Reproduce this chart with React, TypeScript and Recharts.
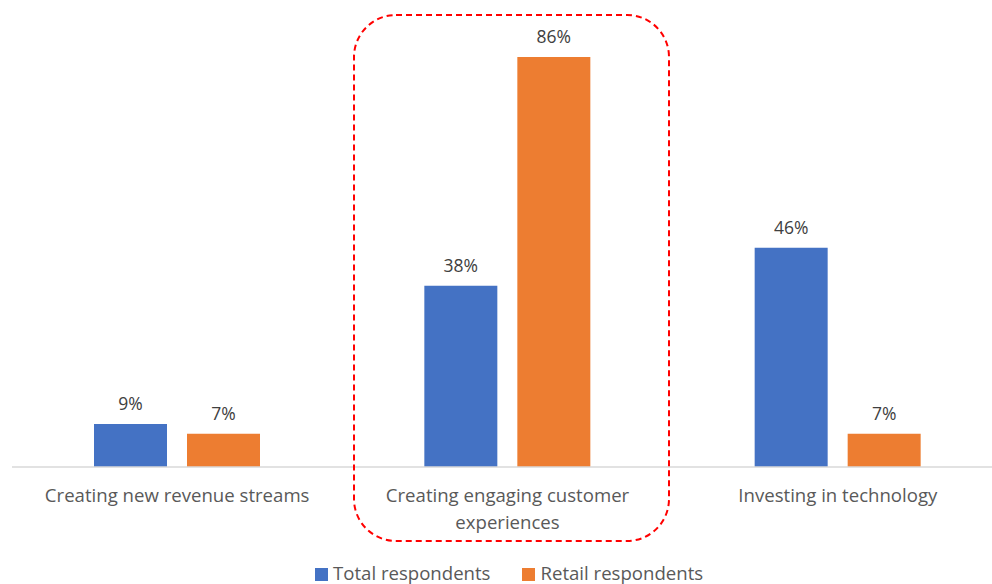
import React from 'react';
import { BarChart, Bar, XAxis, YAxis, LabelList } from 'recharts';

const categories = [
  'Creating new revenue streams',
  'Creating engaging customer|experiences',
  'Investing in technology',
];
const totalRespondents = [9, 38, 46];
const retailRespondents = [7, 86, 7];
const seriesNames = ['Total respondents', 'Retail respondents'];
const colors = ['#4472C4', '#ED7D31'];

const data = categories.map((name, i) => ({
  name,
  total: totalRespondents[i],
  retail: retailRespondents[i],
}));

const FONT = '"Open Sans", "Noto Sans", sans-serif';

const CategoryTick = ({ x, y, payload }) => {
  const lines = String(payload.value).split('|');
  return (
    <text x={x} y={y + 35} textAnchor="middle" fill="#595959" fontSize={18.6} fontFamily={FONT}>
      {lines.map((line, i) => (
        <tspan key={i} x={x} dy={i === 0 ? 0 : 27}>
          {line}
        </tspan>
      ))}
    </text>
  );
};

const App = () => {
  return (
    <div style={{ position: 'absolute', left: 0, top: 0, width: 992, height: 584, overflow: 'hidden', background: '#fff' }}>
      <BarChart
        width={1004}
        height={584}
        data={data}
        margin={{ top: 38, right: 1, left: 12, bottom: 87 }}
        barGap={20}
        barSize={73}
      >
        <XAxis
          dataKey="name"
          height={30}
          axisLine={{ stroke: '#D9D9D9', strokeWidth: 1.5 }}
          tickLine={false}
          tickSize={0}
          tickMargin={0}
          tick={<CategoryTick />}
          interval={0}
        />
        <YAxis hide domain={[0, 90]} />
        <Bar dataKey="total" name={seriesNames[0]} fill={colors[0]} isAnimationActive={false}>
          <LabelList
            dataKey="total"
            position="top"
            offset={14}
            formatter={(v) => `${v}%`}
            fill="#404040"
            fontSize={17.5}
            fontFamily={FONT}
          />
        </Bar>
        <Bar dataKey="retail" name={seriesNames[1]} fill={colors[1]} isAnimationActive={false}>
          <LabelList
            dataKey="retail"
            position="top"
            offset={14}
            formatter={(v) => `${v}%`}
            fill="#404040"
            fontSize={17.5}
            fontFamily={FONT}
          />
        </Bar>
      </BarChart>
      {/* dashed highlight around the middle group */}
      <svg width={992} height={584} style={{ position: 'absolute', left: 0, top: 0, pointerEvents: 'none' }}>
        <rect
          x={354}
          y={15}
          width={315}
          height={526}
          rx={42}
          ry={42}
          fill="none"
          stroke="#FF0000"
          strokeWidth={2}
          strokeDasharray="6 4"
        />
      </svg>
      <div
        style={{
          position: 'absolute',
          left: 315,
          top: 560,
          display: 'flex',
          gap: 32,
          fontFamily: FONT,
          fontSize: 18.6,
          color: '#595959',
          whiteSpace: 'nowrap',
        }}
      >
        {seriesNames.map((s, i) => (
          <div key={s} style={{ display: 'flex', alignItems: 'center' }}>
            <span style={{ width: 13, height: 13, background: colors[i], marginRight: 5, marginTop: 3, display: 'inline-block' }} />
            <span>{s}</span>
          </div>
        ))}
      </div>
    </div>
  );
};

export default App;
